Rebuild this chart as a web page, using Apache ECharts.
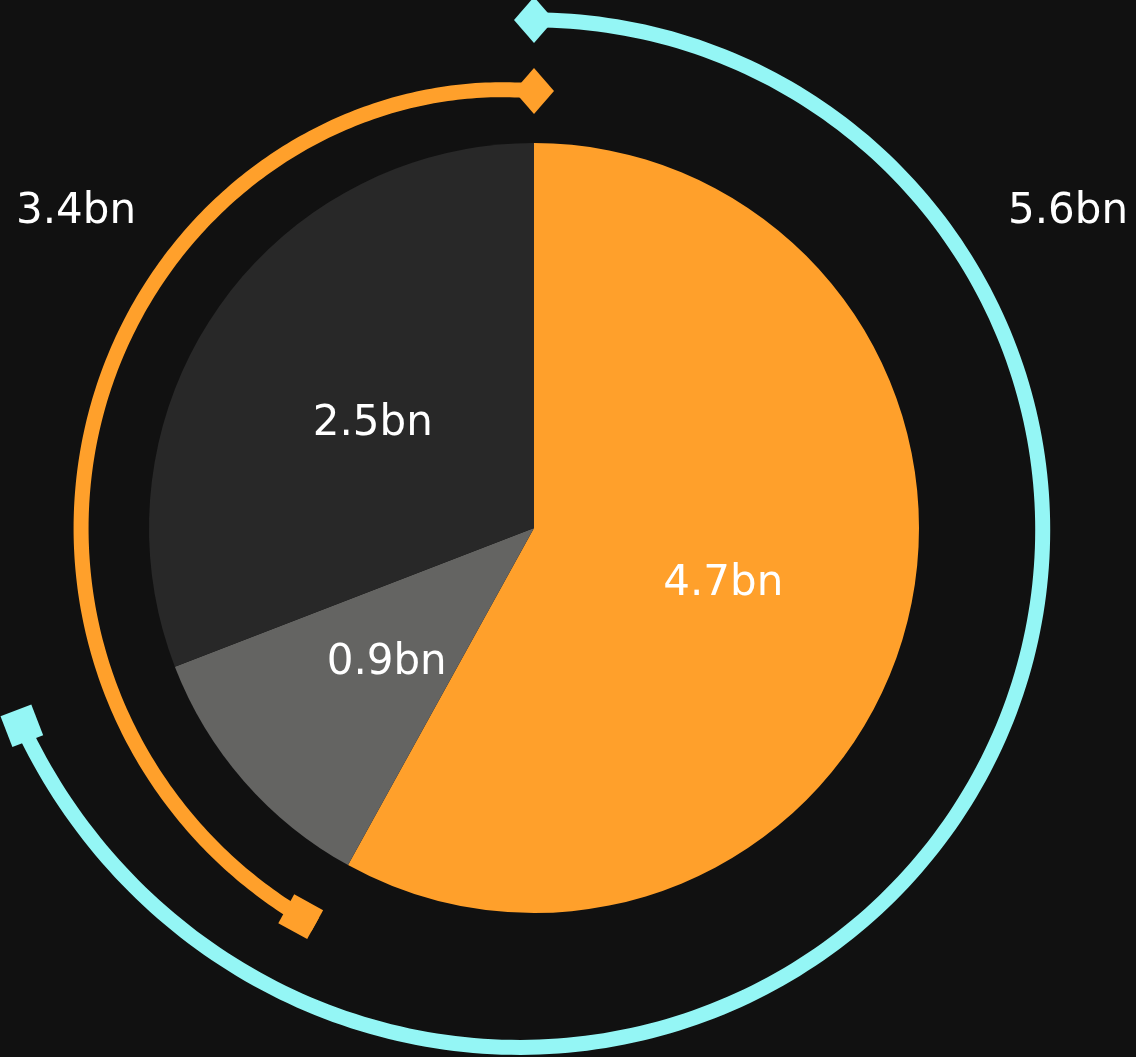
<!DOCTYPE html>
<html>
<head>
<meta charset="utf-8">
<script src="https://cdn.jsdelivr.net/npm/echarts@6/dist/echarts.min.js"></script>
<style>
  html, body { margin: 0; padding: 0; background: #111111; }
  #chart { width: 1136px; height: 1057px; }
</style>
</head>
<body>
<div id="chart"></div>
<script>
// ---- data ----
const sliceNames  = ['A', 'B', 'C'];
const sliceValues = [4.7, 0.9, 2.5];
const sliceLabels = ['4.7bn', '0.9bn', '2.5bn'];
const sliceColors = ['#FFA02B', '#646462', '#282828'];

// outer bracket arcs: which slices each one spans, and its label
const arcNames   = ['outer', 'inner'];
const arcFrom    = [0, 1];      // first slice index
const arcTo      = [1, 2];      // last slice index
const arcLabels  = ['5.6bn', '3.4bn'];

// ---- styling of the bracket arcs ----
const arcColors      = ['#94F6F5', '#FFA02B'];
const arcRadiusStart = [508, 453];   // px at the arc's start
const arcRadiusEnd   = [549, 437];   // px at the arc's end
const arcGrowPower   = [4, 6];
const arcSquareShift = [0, 1];       // 0: square centred on end, 1: square inside the span

// ---- derived ----
const total = sliceValues.reduce((a, b) => a + b, 0);
const cum = [0];
sliceValues.forEach((v, i) => cum.push(cum[i] + v));

const CX = 534, CY = 528, POLAR_R = 560;
const FONT = 'DejaVu Sans';

function arcItem(i) {
  return [cum[arcFrom[i]], cum[arcTo[i] + 1]];
}

function renderArc(params, api) {
  const i = params.dataIndex;
  const start = api.value(0), end = api.value(1);
  const cs = params.coordSys;
  const cx = cs.cx, cy = cs.cy;
  const r0 = arcRadiusStart[i], r1 = arcRadiusEnd[i], pw = arcGrowPower[i];
  const N = 240;
  const pts = [];
  for (let k = 0; k <= N; k++) {
    const f = k / N;
    const rpx = r0 + (r1 - r0) * Math.pow(f, pw);
    pts.push(api.coord([rpx / cs.r, start + (end - start) * f]));
  }
  const p0 = pts[0], p1 = pts[N];
  const a0 = Math.atan2(p0[1] - cy, p0[0] - cx);
  const a1 = Math.atan2(p1[1] - cy, p1[0] - cx);
  const color = arcColors[i];
  const s = 16.5;           // half side of end square
  const dr = 23, dt = 20;   // half diagonals of diamond (radial, tangential)
  function square(p, a, dir) {
    const u = [Math.cos(a), Math.sin(a)], t = [-Math.sin(a), Math.cos(a)];
    const sh = dir * s * arcSquareShift[i];
    const c = [p[0] + sh * t[0], p[1] + sh * t[1]];
    return [
      [c[0] + s * u[0] + s * t[0], c[1] + s * u[1] + s * t[1]],
      [c[0] + s * u[0] - s * t[0], c[1] + s * u[1] - s * t[1]],
      [c[0] - s * u[0] - s * t[0], c[1] - s * u[1] - s * t[1]],
      [c[0] - s * u[0] + s * t[0], c[1] - s * u[1] + s * t[1]]
    ];
  }
  function diamond(p, a) {
    const u = [Math.cos(a), Math.sin(a)], t = [-Math.sin(a), Math.cos(a)];
    return [
      [p[0] + dr * u[0], p[1] + dr * u[1]],
      [p[0] + dt * t[0], p[1] + dt * t[1]],
      [p[0] - dr * u[0], p[1] - dr * u[1]],
      [p[0] - dt * t[0], p[1] - dt * t[1]]
    ];
  }
  // diamond sits at the top (value 0 / total), square at the other end
  const startIsTop = Math.abs(start) < 1e-9;
  return {
    type: 'group',
    children: [
      { type: 'polyline', shape: { points: pts },
        style: { stroke: color, lineWidth: 15, fill: null, lineCap: 'butt', lineJoin: 'round' } },
      { type: 'polygon', shape: { points: startIsTop ? diamond(p0, a0) : square(p0, a0, 1) },
        style: { fill: color } },
      { type: 'polygon', shape: { points: startIsTop ? square(p1, a1, -1) : diamond(p1, a1) },
        style: { fill: color } }
    ]
  };
}

const chart = echarts.init(document.getElementById('chart'), null, { renderer: 'canvas' });
chart.setOption({
  backgroundColor: '#111111',
  animation: false,
  polar: { center: [CX, CY], radius: POLAR_R },
  angleAxis: { type: 'value', min: 0, max: total, startAngle: 90, clockwise: true, show: false },
  radiusAxis: { type: 'value', min: 0, max: 1, show: false },
  graphic: [
    { type: 'text', x: 76, y: 212,
      style: { text: arcLabels[1], fill: '#ffffff', font: '42px "' + FONT + '"', align: 'center', verticalAlign: 'middle' } },
    { type: 'text', x: 1068, y: 212,
      style: { text: arcLabels[0], fill: '#ffffff', font: '42px "' + FONT + '"', align: 'center', verticalAlign: 'middle' } }
  ],
  series: [
    {
      type: 'pie',
      center: [CX, CY],
      radius: [0, 385],
      startAngle: 90,
      clockwise: true,
      silent: true,
      label: {
        show: true, position: 'inside', color: '#ffffff',
        fontFamily: FONT, fontSize: 42, offset: [0, 7],
        formatter: p => sliceLabels[p.dataIndex]
      },
      labelLine: { show: false },
      itemStyle: { borderWidth: 0 },
      data: sliceValues.map((v, i) => ({ name: sliceNames[i], value: v, itemStyle: { color: sliceColors[i] } }))
    },
    {
      type: 'custom',
      coordinateSystem: 'polar',
      silent: true,
      renderItem: renderArc,
      data: arcNames.map((n, i) => arcItem(i))
    }
  ]
});
</script>
</body>
</html>
